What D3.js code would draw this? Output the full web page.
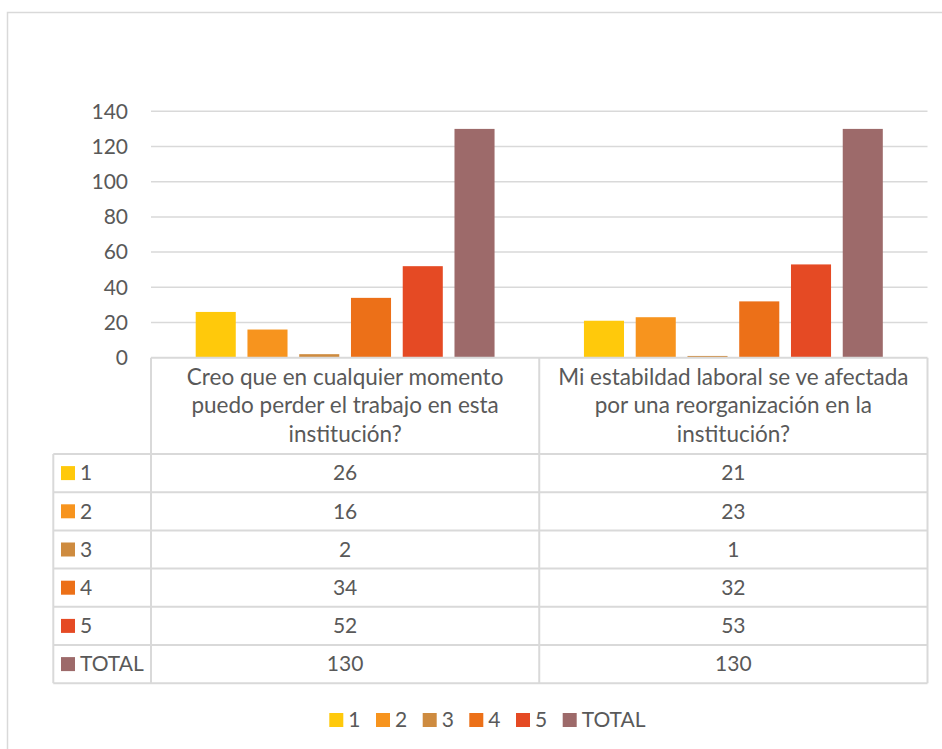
<!DOCTYPE html>
<html><head><meta charset="utf-8">
<script src="https://cdn.jsdelivr.net/npm/d3@7"></script>
<style>body{margin:0;background:#fff}svg{display:block}text{font-family:Lato,"Open Sans",sans-serif;fill:#595959}</style>
</head><body><svg id="c" width="942" height="749"></svg>
<script>
const categories = [
  ["Creo que en cualquier momento","puedo perder el trabajo en esta","institución?"],
  ["Mi estabildad laboral se ve afectada","por una reorganización en la","institución?"]
];
const seriesNames = ["1","2","3","4","5","TOTAL"];
const seriesColors = ["#FFC90B","#F7941E","#CE8B3F","#EC7018","#E54A24","#9D6A6A"];
const values = [
  [26,21],
  [16,23],
  [2,1],
  [34,32],
  [52,53],
  [130,130]
];
const yTicks = [0,20,40,60,80,100,120,140];

const svg = d3.select("#c");
const grid = "#D9D9D9";
const fs = 21;
// outer frame
svg.append("rect").attr("x",7.5).attr("y",12.5).attr("width",1200).attr("height",1200)
  .attr("fill","none").attr("stroke",grid).attr("stroke-width",1.5);

const L=151, R=927.5, T=111.3, B=357.7;
const y = d3.scaleLinear().domain([0,140]).range([B,T]);
const x0 = d3.scaleBand().domain(d3.range(categories.length)).range([L,R]);
const pad = 44.7;
const x1 = d3.scaleBand().domain(seriesNames).range([pad, x0.bandwidth()-pad]).paddingInner(0.226);

// gridlines
svg.append("g").selectAll("line").data(yTicks.filter(d=>d>0)).join("line")
  .attr("x1",L).attr("x2",R).attr("y1",d=>y(d)).attr("y2",d=>y(d))
  .attr("stroke",grid).attr("stroke-width",1.5);

// y axis labels
const ya = svg.append("g").attr("transform",`translate(${L},0)`)
  .call(d3.axisLeft(y).tickValues(yTicks).tickSize(0).tickPadding(23));
ya.select(".domain").remove();
ya.selectAll("text").attr("font-size",fs).attr("font-family","Lato").attr("fill","#595959");

// bars
seriesNames.forEach((s,si)=>{
  svg.append("g").selectAll("rect").data(values[si]).join("rect")
    .attr("x",(d,ci)=>x0(ci)+x1(s)).attr("width",x1.bandwidth())
    .attr("y",d=>y(d)).attr("height",d=>B-y(d)).attr("fill",seriesColors[si]);
});

// data table
const tblL = 53.3;
const rowTop = 454, rowH = 38.2;
const lines = svg.append("g").attr("stroke",grid).attr("stroke-width",2).attr("fill","none");
lines.append("line").attr("x1",L).attr("x2",R).attr("y1",B).attr("y2",B);
[L, x0(1), R].forEach(xv=>lines.append("line").attr("x1",xv).attr("x2",xv).attr("y1",B).attr("y2",rowTop+rowH*seriesNames.length));
lines.append("line").attr("x1",tblL).attr("x2",tblL).attr("y1",rowTop).attr("y2",rowTop+rowH*seriesNames.length);
d3.range(seriesNames.length+1).forEach(i=>lines.append("line").attr("x1",tblL).attr("x2",R).attr("y1",rowTop+i*rowH).attr("y2",rowTop+i*rowH));

// header text
categories.forEach((cat,ci)=>{
  const t = svg.append("text").attr("text-anchor","middle").attr("font-size",22.5);
  cat.forEach((ln,li)=>t.append("tspan").attr("x",x0(ci)+x0.bandwidth()/2).attr("y",384.5+li*28.8).text(ln));
});

// rows
seriesNames.forEach((s,si)=>{
  const cy = rowTop + si*rowH + rowH/2;
  svg.append("rect").attr("x",61).attr("y",cy-7).attr("width",14).attr("height",14).attr("fill",seriesColors[si]);
  svg.append("text").attr("x",80).attr("y",cy).attr("dy","0.35em").attr("font-size",fs).text(s);
  values[si].forEach((v,ci)=>{
    svg.append("text").attr("x",x0(ci)+x0.bandwidth()/2).attr("y",cy).attr("dy","0.35em")
      .attr("text-anchor","middle").attr("font-size",fs).text(v);
  });
});

// legend
const legX = [329.3,376,422.7,469.3,516,562.7];
const lg = svg.append("g");
seriesNames.forEach((s,si)=>{
  lg.append("rect").attr("x",legX[si]).attr("y",713).attr("width",14).attr("height",14).attr("fill",seriesColors[si]);
  lg.append("text").attr("x",legX[si]+19).attr("y",720).attr("dy","0.35em").attr("font-size",fs).text(s);
});
</script></body></html>
